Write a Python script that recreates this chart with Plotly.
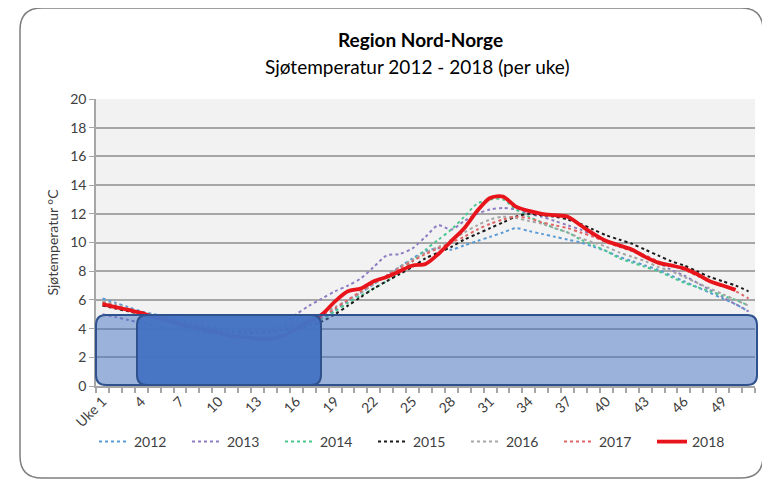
import plotly.graph_objects as go

weeks = list(range(1, 52))
tick_weeks = list(range(1, 50, 3))
tick_labels = ["Uke 1"] + [str(w) for w in tick_weeks[1:]]

t2012 = [6.1, 5.8, 5.5, 5.2, 5.0, 4.8, 4.6, 4.4, 4.2, 4.1, 4.0, 3.9, 3.9, 4.0, 4.1, 4.3, 4.5,
         4.8, 5.3, 5.9, 6.5, 7.1, 7.7, 8.3, 8.9, 9.4, 9.6, 9.5, 9.8, 10.1, 10.4, 10.7, 11.0,
         10.8, 10.6, 10.4, 10.2, 10.0, 9.7, 9.4, 9.0, 8.7, 8.4, 8.1, 7.7, 7.3, 6.9, 6.5, 6.1, 5.7, 5.2]
t2013 = [5.0, 4.8, 4.6, 4.4, 4.2, 4.0, 3.9, 3.8, 3.7, 3.6, 3.6, 3.6, 3.7, 3.9, 4.3, 5.0, 5.6,
         6.1, 6.6, 7.0, 7.5, 8.3, 9.1, 9.2, 9.6, 10.4, 11.2, 10.9, 11.5, 12.0, 12.3, 12.4, 12.3,
         12.0, 11.8, 11.5, 11.2, 10.9, 10.5, 10.1, 9.8, 9.4, 9.0, 8.6, 8.1, 7.7, 7.2, 6.7, 6.2, 5.7, 5.2]
t2014 = [5.8, 5.6, 5.3, 5.1, 4.9, 4.7, 4.5, 4.3, 4.1, 4.0, 3.9, 3.9, 3.9, 4.0, 4.1, 4.2, 4.4,
         4.7, 5.2, 5.8, 6.3, 6.8, 7.3, 7.9, 8.7, 9.5, 10.2, 10.9, 11.8, 12.7, 13.0, 13.0, 12.3,
         11.8, 11.4, 11.0, 10.7, 10.2, 9.8, 9.4, 8.9, 8.6, 8.3, 8.0, 7.6, 7.2, 6.9, 6.6, 6.3, 6.0, 5.6]
t2015 = [5.6, 5.4, 5.2, 5.0, 4.8, 4.6, 4.4, 4.2, 4.0, 3.9, 3.8, 3.7, 3.7, 3.8, 3.9, 4.0, 4.2,
         4.5, 5.0, 5.6, 6.2, 6.8, 7.3, 7.8, 8.3, 8.9, 9.3, 9.7, 10.2, 10.6, 11.0, 11.4, 11.8,
         12.0, 11.9, 11.8, 11.6, 11.3, 10.9, 10.5, 10.2, 9.9, 9.5, 9.1, 8.7, 8.4, 8.0, 7.6, 7.3, 7.0, 6.6]
t2016 = [5.9, 5.7, 5.4, 5.1, 4.9, 4.7, 4.5, 4.3, 4.1, 4.0, 3.9, 3.9, 3.9, 4.0, 4.2, 4.4, 4.6,
         5.0, 5.5, 6.0, 6.5, 7.1, 7.7, 8.3, 8.8, 9.3, 9.7, 10.2, 10.7, 11.2, 11.6, 11.8, 11.7,
         11.5, 11.3, 11.0, 10.7, 10.3, 10.0, 9.7, 9.3, 9.0, 8.7, 8.3, 8.0, 7.6, 7.2, 6.8, 6.4, 6.0, 5.6]
t2017 = [5.8, 5.6, 5.3, 5.1, 4.9, 4.7, 4.5, 4.3, 4.1, 4.0, 3.9, 3.8, 3.8, 3.9, 4.0, 4.2, 4.4,
         4.8, 5.4, 6.0, 6.6, 7.2, 7.7, 8.2, 8.7, 9.2, 9.6, 10.0, 10.4, 10.9, 11.3, 11.6, 11.8,
         11.7, 11.4, 11.2, 11.0, 10.7, 10.4, 10.0, 9.7, 9.4, 9.1, 8.7, 8.4, 8.1, 7.7, 7.3, 7.0, 6.6, 6.1]
t2018 = [5.7, 5.5, 5.3, 5.1, 4.8, 4.6, 4.3, 4.1, 3.9, 3.7, 3.5, 3.4, 3.3, 3.3, 3.5, 4.0, 4.5,
         5.0, 5.9, 6.6, 6.8, 7.3, 7.6, 8.0, 8.4, 8.5, 9.2, 10.1, 11.0, 12.2, 13.1, 13.2, 12.5,
         12.2, 12.0, 11.9, 11.8, 11.2, 10.6, 10.1, 9.8, 9.5, 9.0, 8.6, 8.4, 8.2, 7.8, 7.3, 7.0, 6.7]

series = [("2012", t2012, "#5B9BD5"), ("2013", t2013, "#8E7CC3"), ("2014", t2014, "#4CC78F"),
          ("2015", t2015, "#1A1A1A"), ("2016", t2016, "#A6A6A6"), ("2017", t2017, "#E06666")]

FONT = "Lato, 'Open Sans', sans-serif"
TXT = "#404040"

fig = go.Figure()
for name, vals, col in series:
    fig.add_trace(go.Scatter(x=weeks[:len(vals)], y=vals, name=name, mode="lines",
                             line=dict(color=col, width=2, dash="dot", shape="spline", smoothing=0.8)))
fig.add_trace(go.Scatter(x=weeks[:len(t2018)], y=t2018, name="2018", mode="lines",
                         line=dict(color="#E8141B", width=3.8, shape="spline", smoothing=0.8)))

# page offset (body margin) and plot-area geometry in screen pixels
OFF = 8
W_, H_ = 770 - OFF, 481 - OFF
L, R, T, B = 96 - OFF, 755 - OFF, 99 - OFF, 386 - OFF
W, H = R - L, B - T


def px_x(px):
    return (px - OFF - L) / W


def px_y(py):
    return (B - (py - OFF)) / H


def rrect(x0, y0, x1, y1, r):
    X0, X1, Yt, Yb = px_x(x0), px_x(x1), px_y(y0), px_y(y1)
    rx, ry = r / W, r / H
    return (f"M{X0+rx},{Yt} L{X1-rx},{Yt} Q{X1},{Yt} {X1},{Yt-ry} L{X1},{Yb+ry} "
            f"Q{X1},{Yb} {X1-rx},{Yb} L{X0+rx},{Yb} Q{X0},{Yb} {X0},{Yb+ry} "
            f"L{X0},{Yt-ry} Q{X0},{Yt} {X0+rx},{Yt} Z")


shapes = [
    dict(type="path", xref="paper", yref="paper", path=rrect(20, 8, 763, 478, 22),
         line=dict(color="#7F7F7F", width=1.5), fillcolor="rgba(0,0,0,0)", layer="below"),
    dict(type="path", xref="paper", yref="paper", path=rrect(96, 315, 757, 385, 10),
         line=dict(color="#2F528F", width=2), fillcolor="rgba(68,114,196,0.5)"),
    dict(type="path", xref="paper", yref="paper", path=rrect(137, 315, 321, 385, 10),
         line=dict(color="#2F528F", width=2), fillcolor="rgba(68,114,196,0.95)"),
]

fig.update_layout(
    width=W_, height=H_,
    margin=dict(l=L, r=W_ - R, t=T, b=H_ - B),
    paper_bgcolor="white", plot_bgcolor="#F2F2F2",
    font=dict(family=FONT, size=14, color=TXT),
    shapes=shapes,
    showlegend=True,
    legend=dict(orientation="h", x=px_x(94), xanchor="left", y=px_y(426), yanchor="top",
                font=dict(size=14, color=TXT), entrywidth=48, entrywidthmode="pixels",
                bgcolor="rgba(0,0,0,0)"),
    annotations=[
        dict(text="<b>Region Nord-Norge</b>", xref="paper", yref="paper", x=px_x(420), y=px_y(40),
             showarrow=False, font=dict(size=19, color="#000000"), xanchor="center", yanchor="middle"),
        dict(text="Sjøtemperatur 2012 - 2018 (per uke)", xref="paper", yref="paper", x=px_x(417),
             y=px_y(66), showarrow=False, font=dict(size=19, color="#000000"),
             xanchor="center", yanchor="middle"),
    ],
)

fig.update_xaxes(range=[0.5, 51.5], tickmode="array", tickvals=tick_weeks, ticktext=tick_labels,
                 tickangle=-45, ticks="", showgrid=False, showline=True, linecolor="#A6A6A6",
                 linewidth=1.5, zeroline=False, tickfont=dict(size=14, color=TXT),
                 minor=dict(tickmode="linear", tick0=0.5, dtick=1, ticks="outside", ticklen=5,
                            tickcolor="#A6A6A6", tickwidth=1.5, showgrid=False))
fig.update_yaxes(range=[0, 20], dtick=2, showgrid=True, gridcolor="#A6A6A6", gridwidth=1.5,
                 showline=True, linecolor="#A6A6A6", linewidth=1.5, ticks="outside", ticklen=5,
                 tickcolor="#A6A6A6", zeroline=False, tickfont=dict(size=14, color=TXT),
                 title=dict(text="Sjøtemperatur °C", font=dict(size=14, color=TXT), standoff=8))

fig.write_html("out.html")
